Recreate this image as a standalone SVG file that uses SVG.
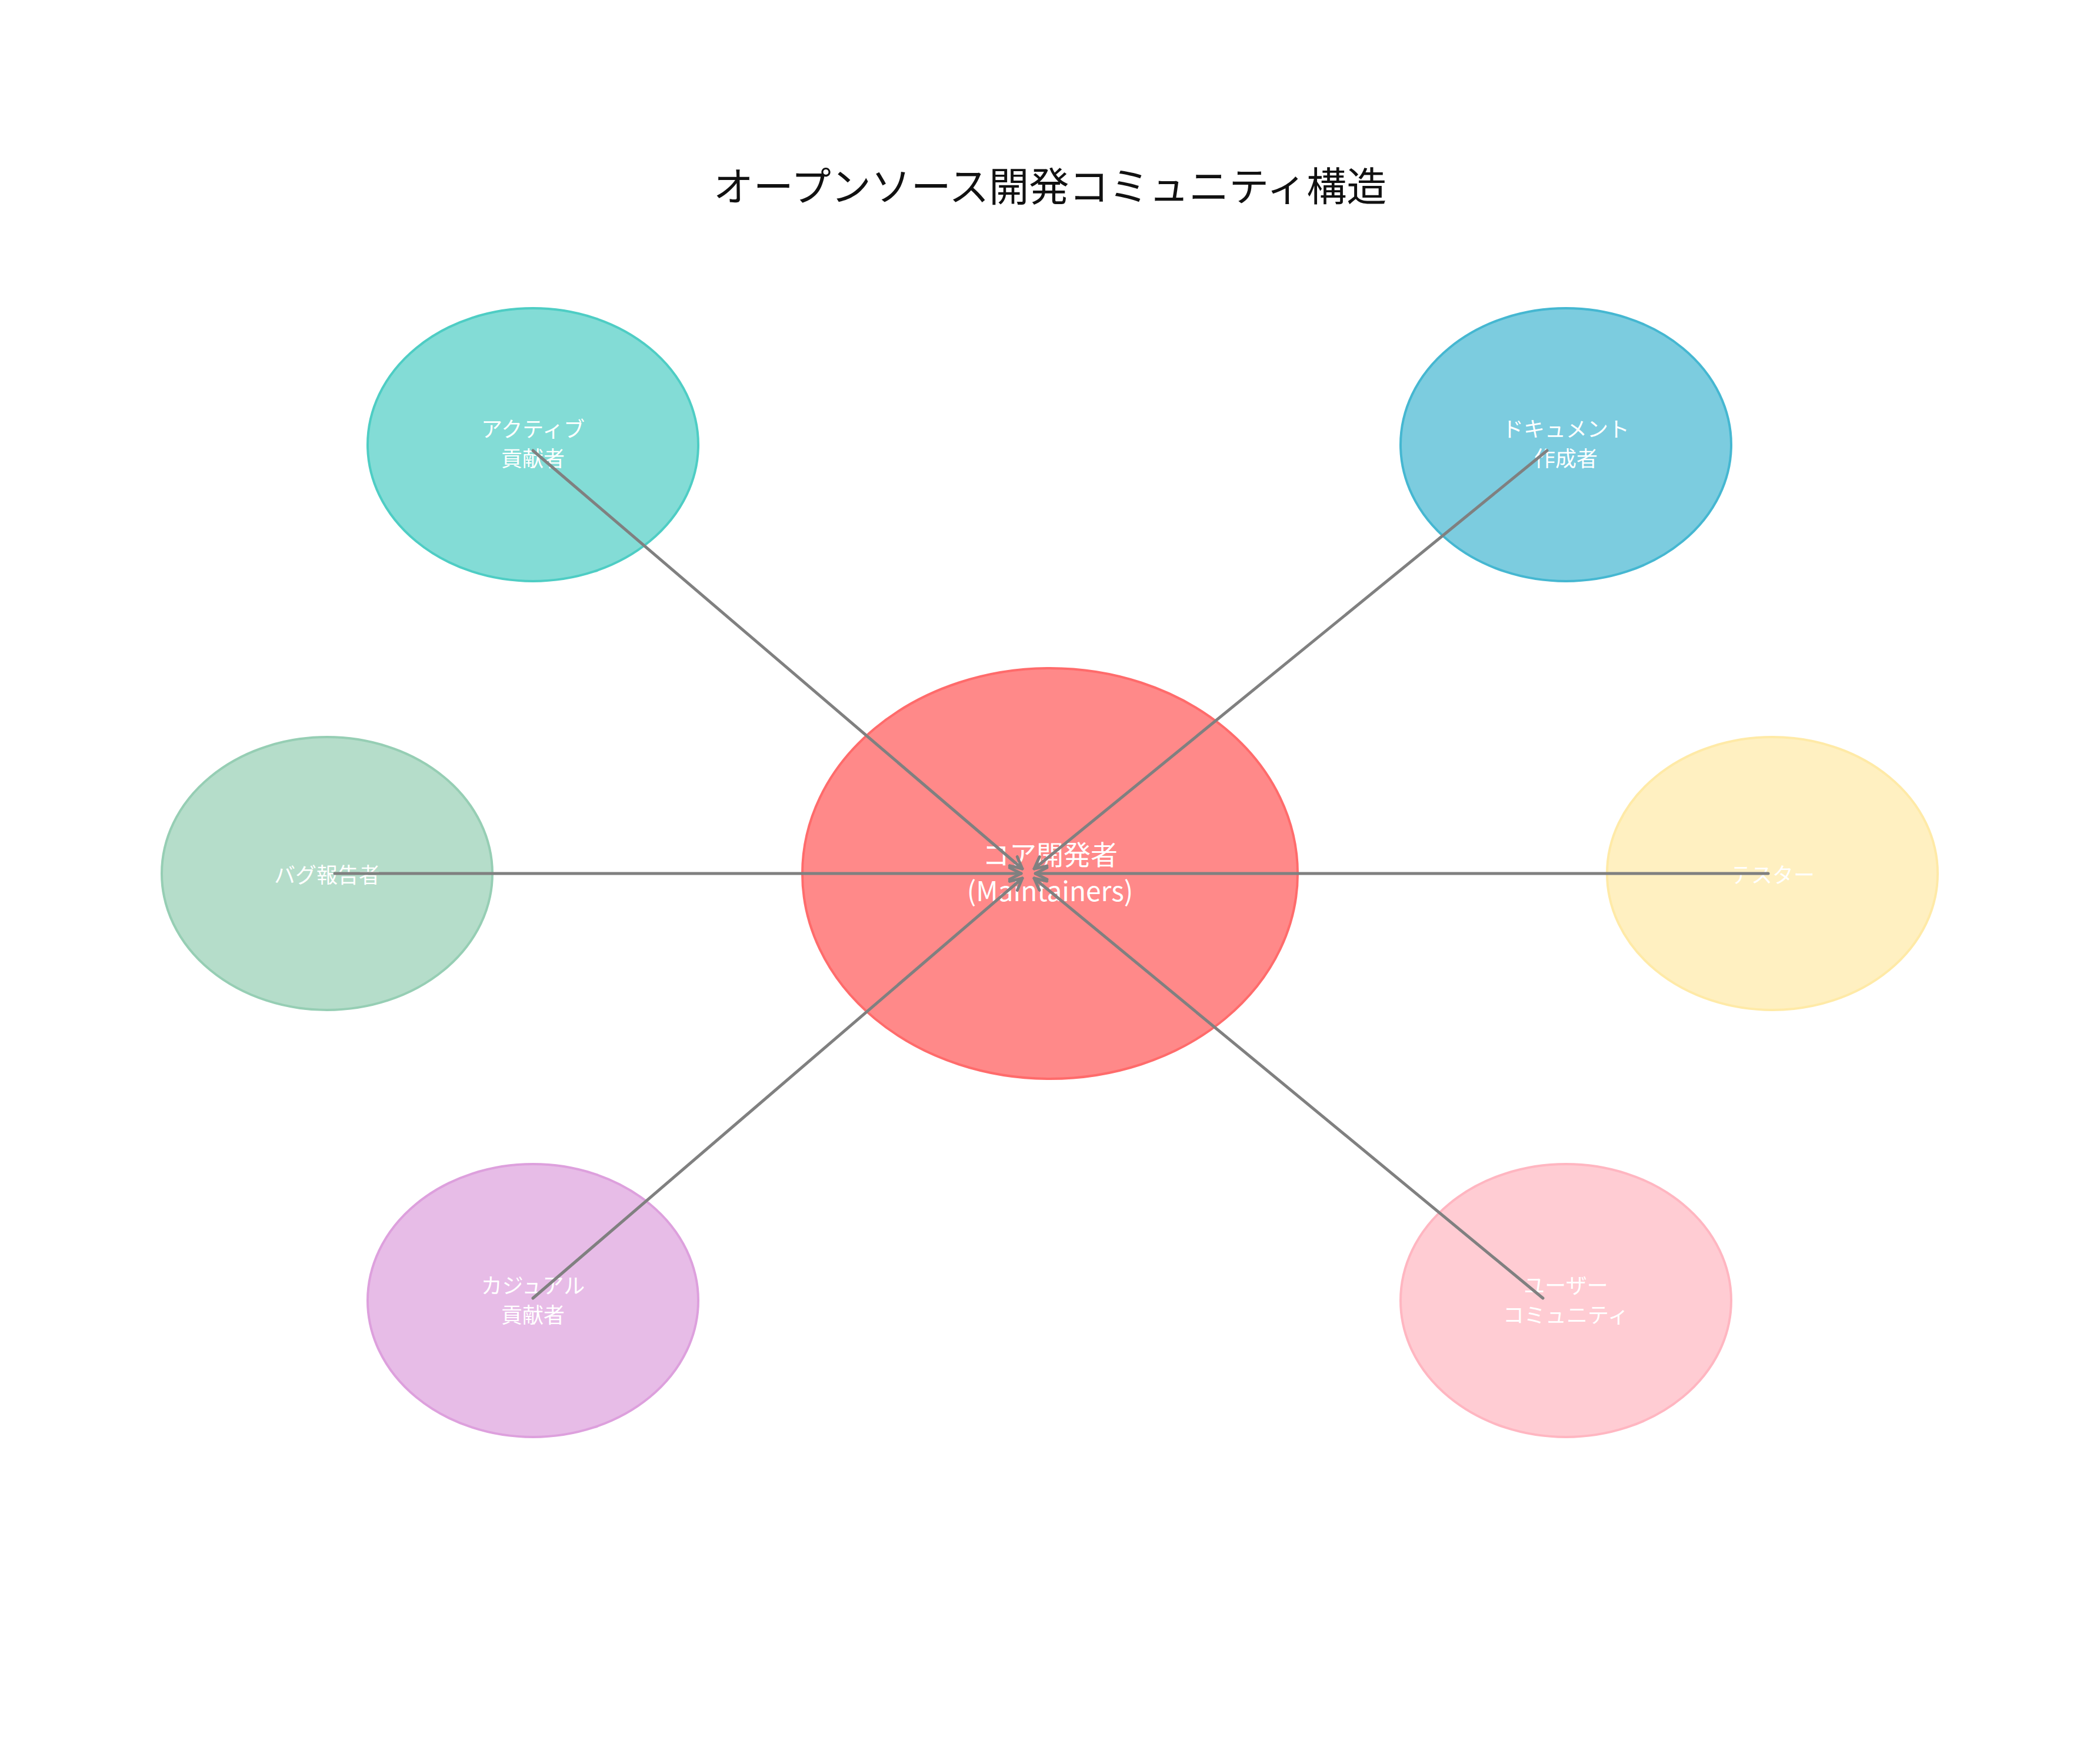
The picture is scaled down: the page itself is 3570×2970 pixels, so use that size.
<svg xmlns="http://www.w3.org/2000/svg" width="3570" height="2970" viewBox="0 0 3570 2970">
<style>
text{font-family:"Noto Sans CJK JP","Noto Sans",sans-serif;fill:#fff;text-anchor:middle;dominant-baseline:central}
.n{font-size:36px}
.c{font-size:46px}
.t{font-size:68px;fill:#111}
ellipse{stroke-width:4}
.e{stroke:#808080;stroke-width:5;fill:none;stroke-linecap:round;marker-end:url(#a)}
</style>
<defs>
<marker id="a" viewBox="0 0 10 10" refX="9" refY="5" markerWidth="5" markerHeight="5" orient="auto" markerUnits="strokeWidth">
<path d="M1,1 L9,5 L1,9" fill="none" stroke="#808080" stroke-width="2" stroke-linecap="round" stroke-linejoin="round"/>
</marker>
</defs>
<rect width="3570" height="2970" fill="#fff"/>
<text class="t" x="1785" y="312">オープンソース開発コミュニティ構造</text>
<g id="core"><ellipse cx="1785" cy="1485" rx="421" ry="349" fill="#FF6B6B" fill-opacity="0.8" stroke="#FF6B6B"/></g>
<g id="active"><ellipse cx="906" cy="756" rx="281" ry="232" fill="#4ECDC4" fill-opacity="0.7" stroke="#4ECDC4"/></g>
<g id="docs"><ellipse cx="2662" cy="756" rx="281" ry="232" fill="#45B7D1" fill-opacity="0.7" stroke="#45B7D1"/></g>
<g id="bug"><ellipse cx="556" cy="1485" rx="281" ry="232" fill="#96CEB4" fill-opacity="0.7" stroke="#96CEB4"/></g>
<g id="tester"><ellipse cx="3013" cy="1485" rx="281" ry="232" fill="#FFEAA7" fill-opacity="0.7" stroke="#FFEAA7"/></g>
<g id="casual"><ellipse cx="906" cy="2211" rx="281" ry="232" fill="#DDA0DD" fill-opacity="0.7" stroke="#DDA0DD"/></g>
<g id="user"><ellipse cx="2662" cy="2211" rx="281" ry="232" fill="#FFB6C1" fill-opacity="0.7" stroke="#FFB6C1"/></g>
<g id="labels">
<text class="c" x="1785" y="1450">コア開発者</text>
<text class="c" x="1785" y="1512">(Maintainers)</text>
<text class="n" x="906" y="727">アクティブ</text><text class="n" x="906" y="777">貢献者</text>
<text class="n" x="2662" y="727">ドキュメント</text><text class="n" x="2662" y="777">作成者</text>
<text class="n" x="556" y="1485">バグ報告者</text>
<text class="n" x="3013" y="1485">テスター</text>
<text class="n" x="906" y="2183">カジュアル</text><text class="n" x="906" y="2233">貢献者</text>
<text class="n" x="2662" y="2183">ユーザー</text><text class="n" x="2662" y="2233">コミュニティ</text>
</g>
<g id="connectors">
<path class="e" d="M906,766 L1738,1477"/>
<path class="e" d="M2630,766 L1758,1477"/>
<path class="e" d="M569,1485 L1736,1485"/>
<path class="e" d="M3006,1485 L1760,1485"/>
<path class="e" d="M906,2207 L1738,1493"/>
<path class="e" d="M2623,2207 L1758,1493"/>
</g>
</svg>
